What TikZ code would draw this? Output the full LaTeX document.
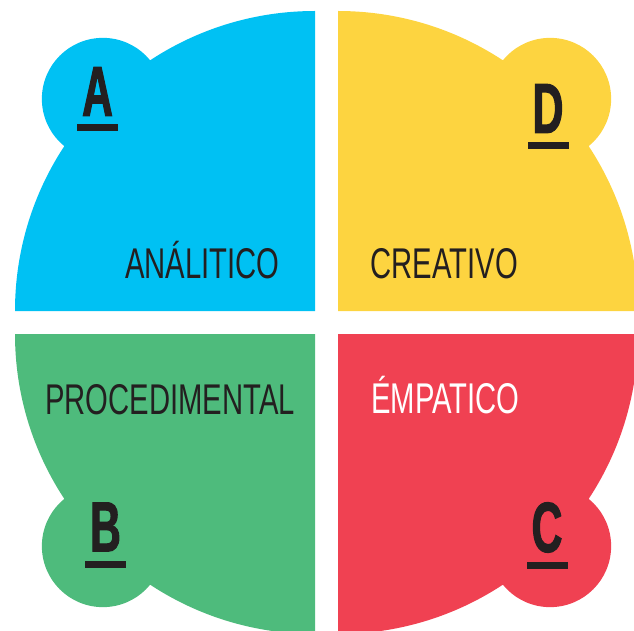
\documentclass[tikz,border=0pt]{standalone}
\usepackage{fontspec}
\usepackage{xcolor}
\usepackage{tikz}
\usetikzlibrary{positioning}
\newfontfamily\wordfont[FakeStretch=0.68]{Liberation Sans}
\newfontfamily\letterfont[FakeStretch=0.6, FakeBold=1.5]{Liberation Sans}
\definecolor{QuadBlue}{RGB}{0,193,243}
\definecolor{QuadYellow}{RGB}{253,212,64}
\definecolor{QuadGreen}{RGB}{78,187,124}
\definecolor{QuadRed}{RGB}{240,65,82}
\definecolor{InkGray}{RGB}{35,31,32}
\tikzset{
	letter/.style={inner sep=0pt, text=InkGray, font=\letterfont\bfseries\fontsize{71}{71}\selectfont},
	letterbar/.style={fill=InkGray, inner sep=0pt, minimum width=41pt, minimum height=7pt},
	word/.style={inner sep=0pt, anchor=base west, text=InkGray, font=\wordfont\fontsize{43}{43}\selectfont}
}

\begin{document}
\begin{tikzpicture}[x=1pt, y=1pt]
		\useasboundingbox (0,0) rectangle (634,630);
		\clip (0,0) rectangle (634,630);
		\coordinate (OA) at (315,319);
		\coordinate (OD) at (338,319);
		\coordinate (OB) at (315,296);
		\coordinate (OC) at (338,296);
		\fill[QuadBlue] (OA) -- ++(-300,0) arc[start angle=180, end angle=90, radius=300] -- cycle;
		\fill[QuadBlue] (OA) ++(135:300) circle[radius=61];
		\fill[QuadYellow] (OD) -- ++(300,0) arc[start angle=0, end angle=90, radius=300] -- cycle;
		\fill[QuadYellow] (OD) ++(45:300) circle[radius=61];
		\fill[QuadGreen] (OB) -- ++(-300,0) arc[start angle=180, end angle=270, radius=300] -- cycle;
		\fill[QuadGreen] (OB) ++(225:300) circle[radius=61];
		\fill[QuadRed] (OC) -- ++(300,0) arc[start angle=0, end angle=-90, radius=300] -- cycle;
		\fill[QuadRed] (OC) ++(315:300) circle[radius=61];
		\node[letter] (A) at (97.5,538.5) {A};
		\node[letter] (D) at (548,521.5) {D};
		\node[letter] (B) at (105.5,103) {B};
		\node[letter] (C) at (547,102.5) {C};
		\node[letterbar, below=8pt of A] (Abar) {};
		\node[letterbar, below=9pt of D] (Dbar) {};
		\node[letterbar, below=9pt of B] (Bbar) {};
		\node[letterbar, below=9pt of C] (Cbar) {};
		\node[word] (analitico) at (125,352) {ANÁLITICO};
		\node[word] (creativo) at (370.5,352) {CREATIVO};
		\node[word] (procedimental) at (45,216) {PROCEDIMENTAL};
		\node[word, text=white] (empatico) at (371,217) {ÉMPATICO};
	\end{tikzpicture}
\end{document}
